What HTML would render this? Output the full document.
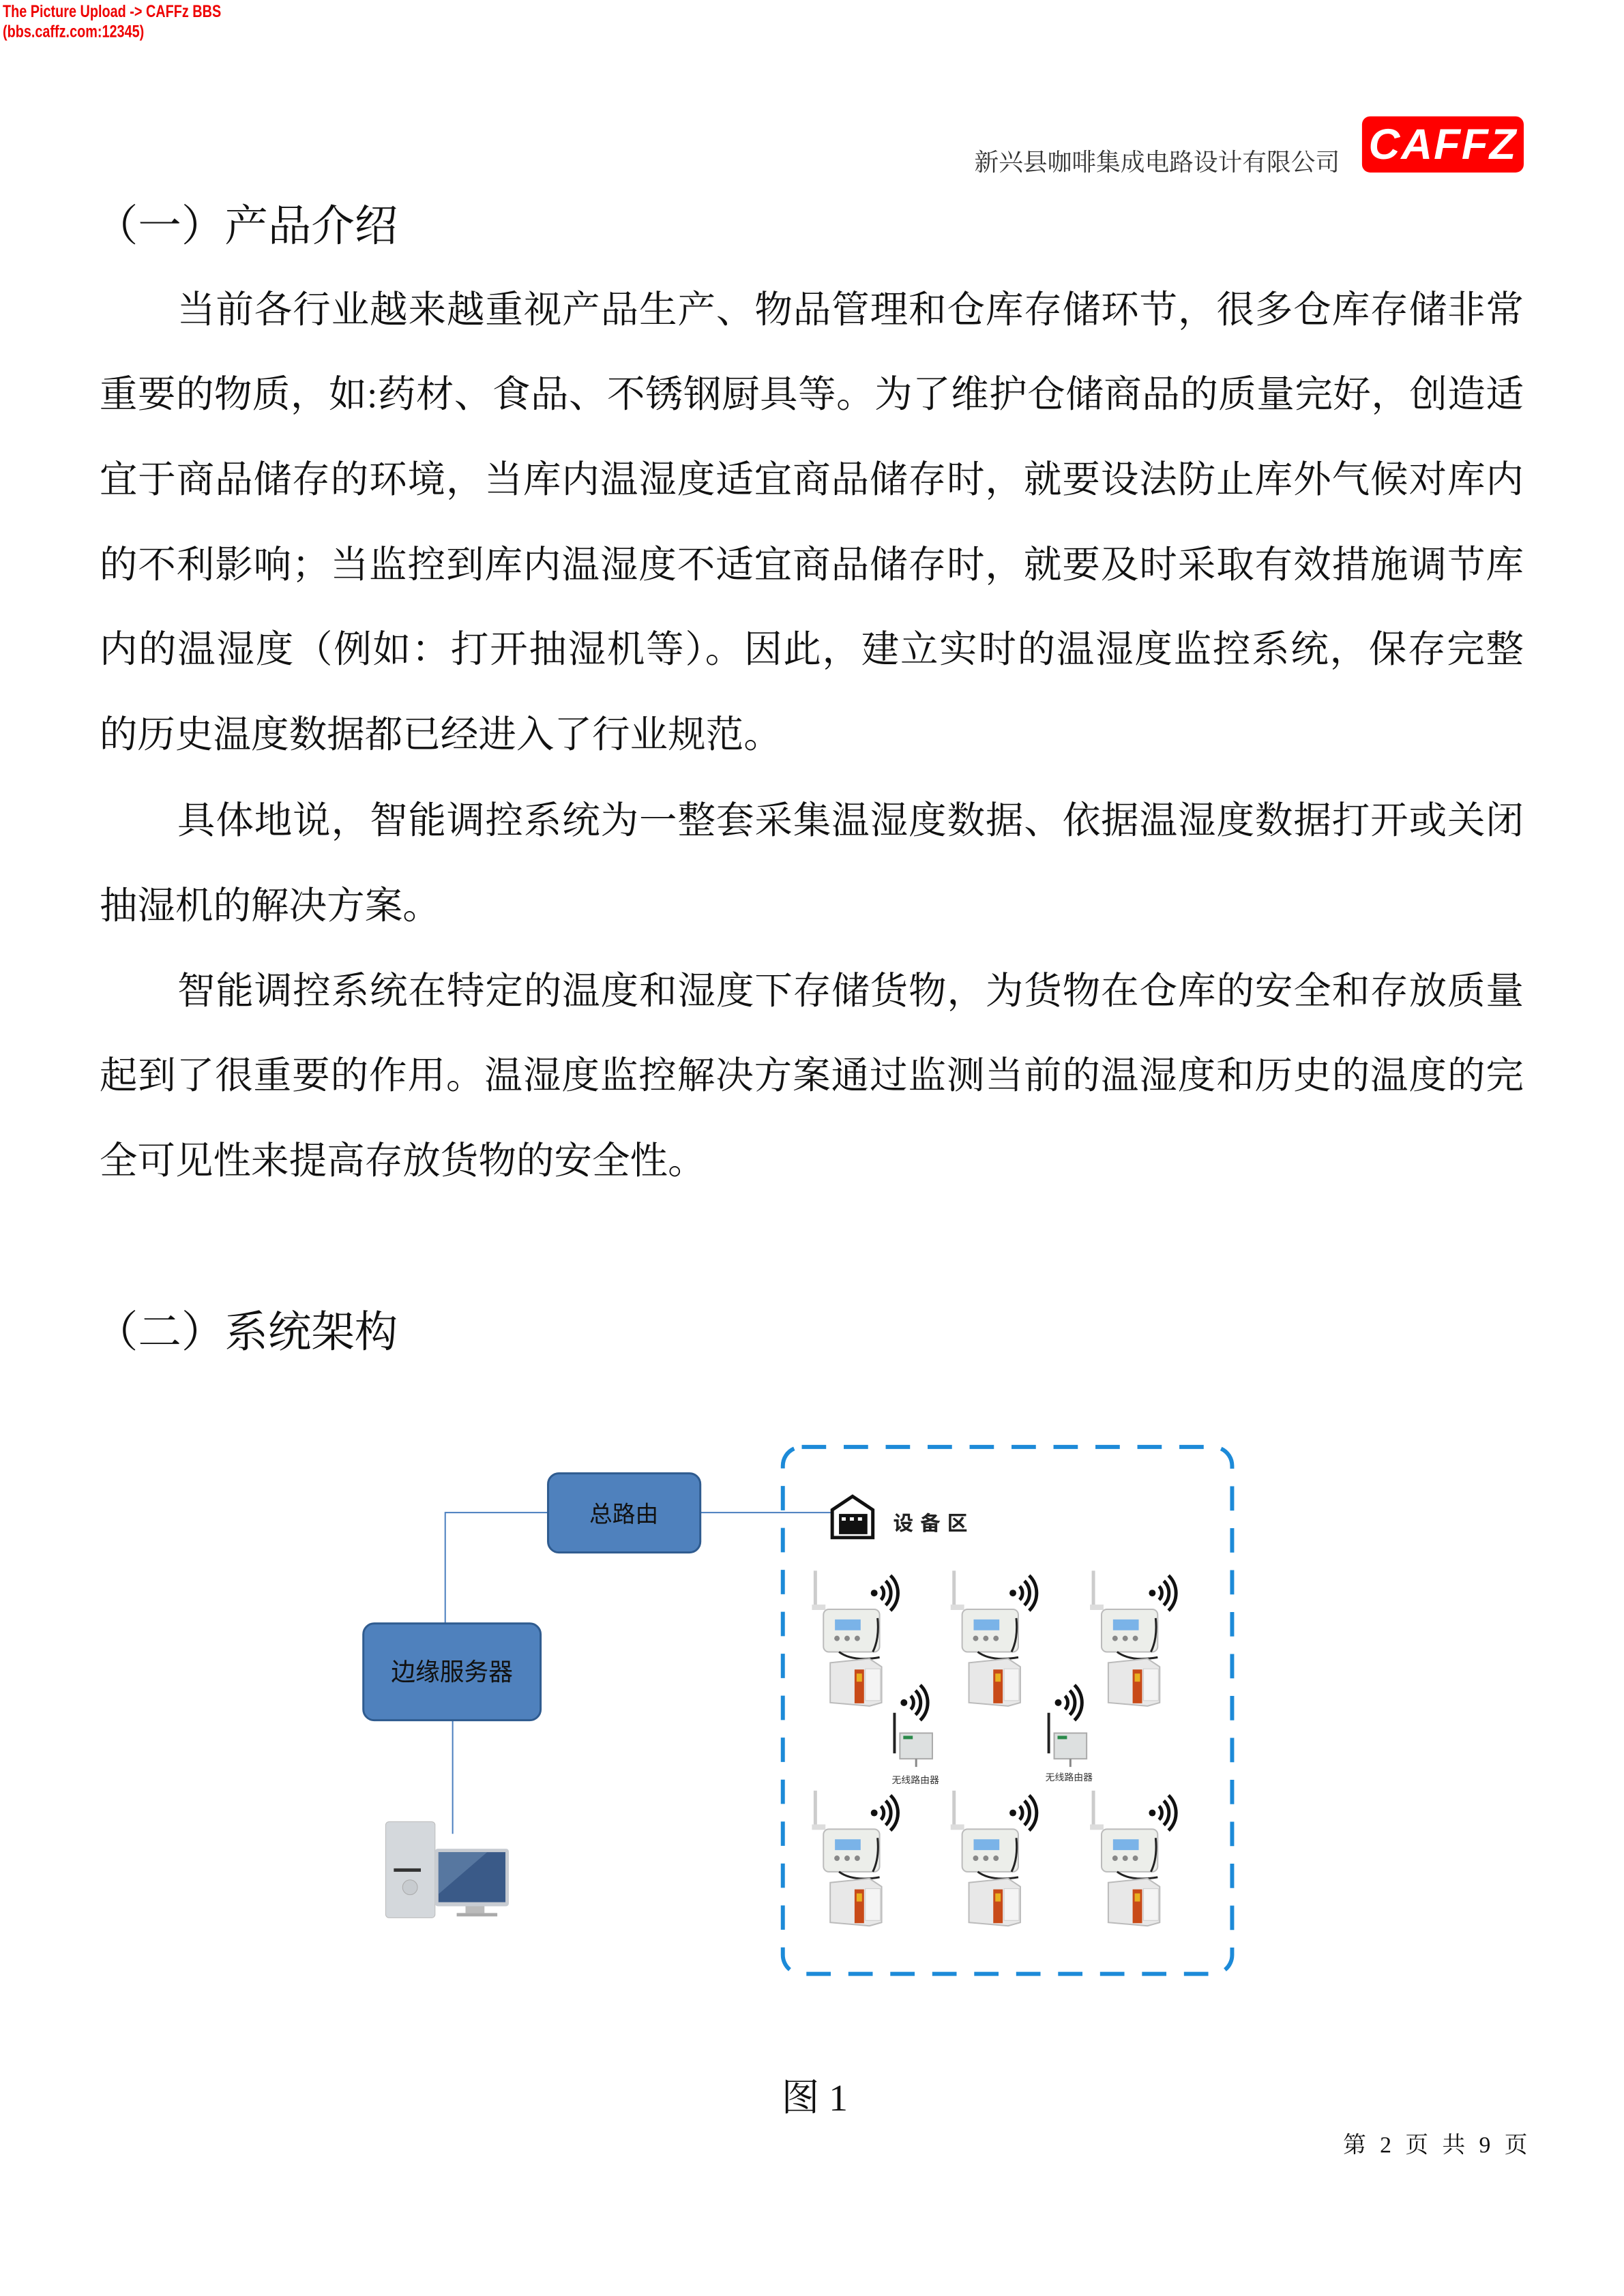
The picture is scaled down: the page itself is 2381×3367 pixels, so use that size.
<!DOCTYPE html>
<html><head><meta charset="utf-8">
<style>
html,body{margin:0;padding:0;background:#fff}
body{width:2381px;height:3367px;position:relative;overflow:hidden;font-family:"Liberation Serif","Noto Serif CJK SC",serif;color:#111}
#w{position:absolute;left:0;top:0;width:2381px;height:3367px;transform:scale(.992);transform-origin:0 0}
.a{position:absolute;white-space:nowrap}
.ln{position:absolute;left:147px;width:2105px;font-size:56px;line-height:64px;height:64px;white-space:nowrap;text-align:justify;text-align-last:justify}
.nl{text-align-last:left}
.ind{left:262px;width:1990px}
.h{font-size:64px;line-height:70px}
</style></head><body><div id="w">
<div class="a" style="left:4px;top:2px;color:#e00;font:bold 25px 'Liberation Sans Narrow','Liberation Sans',sans-serif;line-height:30px;transform:scaleX(.8);transform-origin:left">The Picture Upload -&gt; CAFFz BBS<br>(bbs.caffz.com:12345)</div>
<div class="a" style="left:1440px;top:220px;font-size:36px;line-height:40px;color:#333">新兴县咖啡集成电路设计有限公司</div>
<div class="a" style="left:2013px;top:172px;width:239px;height:83px;background:#f00;border-radius:12px;color:#fff;font:italic bold 64px/83px 'Liberation Sans',sans-serif;text-align:center;letter-spacing:2px">CAFFZ</div>

<div class="a h" style="left:140px;top:300px">（一）产品介绍</div>
<div class="ln ind" style="top:427px">当前各行业越来越重视产品生产、物品管理和仓库存储环节，很多仓库存储非常</div>
<div class="ln" style="top:552px">重要的物质，如:药材、食品、不锈钢厨具等。为了维护仓储商品的质量完好，创造适</div>
<div class="ln" style="top:678px">宜于商品储存的环境，当库内温湿度适宜商品储存时，就要设法防止库外气候对库内</div>
<div class="ln" style="top:804px">的不利影响；当监控到库内温湿度不适宜商品储存时，就要及时采取有效措施调节库</div>
<div class="ln" style="top:929px">内的温湿度（例如：打开抽湿机等）。因此，建立实时的温湿度监控系统，保存完整</div>
<div class="ln nl" style="top:1055px">的历史温度数据都已经进入了行业规范。</div>
<div class="ln ind" style="top:1182px">具体地说，智能调控系统为一整套采集温湿度数据、依据温湿度数据打开或关闭</div>
<div class="ln nl" style="top:1308px">抽湿机的解决方案。</div>
<div class="ln ind" style="top:1434px">智能调控系统在特定的温度和湿度下存储货物，为货物在仓库的安全和存放质量</div>
<div class="ln" style="top:1559px">起到了很重要的作用。温湿度监控解决方案通过监测当前的温湿度和历史的温度的完</div>
<div class="ln nl" style="top:1685px">全可见性来提高存放货物的安全性。</div>

<div class="a h" style="left:140px;top:1935px">（二）系统架构</div>

<svg class="a" style="left:0;top:0" width="2381" height="3367" viewBox="0 0 2381 3367">
<defs>
<g id="wifi" fill="none" stroke="#111" stroke-width="5">
<circle cx="0" cy="0" r="5" fill="#111" stroke="none"/>
<path d="M10,-10 A14,14 0 0 1 10,10"/><path d="M17,-18 A25,25 0 0 1 17,18"/><path d="M24,-26 A36,36 0 0 1 24,26"/>
</g>
<g id="unit">
<line x1="5" y1="0" x2="5" y2="55" stroke="#ccc" stroke-width="5"/>
<rect x="0" y="50" width="20" height="8" fill="#ddd"/>
<rect x="17" y="57" width="83" height="63" rx="8" fill="#eceeea" stroke="#bbb" stroke-width="2"/>
<rect x="34" y="72" width="38" height="16" fill="#7ab3e8"/>
<circle cx="37" cy="100" r="4" fill="#888"/><circle cx="52" cy="100" r="4" fill="#888"/><circle cx="67" cy="100" r="4" fill="#888"/>
<path d="M40,120 Q60,135 100,128 M90,120 Q100,100 97,70" stroke="#222" stroke-width="3" fill="none"/>
<use href="#wifi" x="92" y="33"/>
<polygon points="27,136 85,130 103,142 103,195 85,200 27,195" fill="#e8e8e8" stroke="#bbb" stroke-width="2"/>
<rect x="63" y="146" width="14" height="50" fill="#c84a18"/>
<rect x="66" y="152" width="8" height="12" fill="#e8b020"/>
<rect x="79" y="145" width="22" height="47" fill="#f4f4f4" stroke="#ccc"/>
</g>
<g id="router">
<line x1="0" y1="0" x2="0" y2="60" stroke="#222" stroke-width="4"/>
<rect x="8" y="30" width="48" height="38" fill="#dde0e0" stroke="#aaa" stroke-width="2"/>
<rect x="13" y="34" width="14" height="5" fill="#2a8a4a"/>
<line x1="32" y1="68" x2="32" y2="80" stroke="#888" stroke-width="3"/>
<use href="#wifi" x="14" y="-15"/>
</g>
</defs>
<polyline points="810,2236 658,2236 658,2400" fill="none" stroke="#4a7ebf" stroke-width="2"/>
<line x1="1035" y1="2236" x2="1240" y2="2236" stroke="#4a7ebf" stroke-width="2"/>
<line x1="669" y1="2543" x2="669" y2="2711" stroke="#4a7ebf" stroke-width="2"/>
<rect x="810" y="2178" width="225" height="117" rx="16" fill="#4f81bd" stroke="#2f5b8f" stroke-width="3"/>
<text x="922" y="2250" font-size="34" text-anchor="middle" fill="#111" font-family="Liberation Sans,Noto Sans CJK SC,sans-serif">总路由</text>
<rect x="537" y="2400" width="262" height="143" rx="16" fill="#4f81bd" stroke="#2f5b8f" stroke-width="3"/>
<text x="668" y="2484" font-size="36" text-anchor="middle" fill="#111" font-family="Liberation Sans,Noto Sans CJK SC,sans-serif">边缘服务器</text>
<rect x="570" y="2693" width="73" height="142" rx="5" fill="#d4d8dc" stroke="#bbb"/>
<rect x="582" y="2762" width="40" height="5" fill="#333"/>
<circle cx="606" cy="2790" r="11" fill="#c8ccd0" stroke="#aaa"/>
<rect x="643" y="2733" width="109" height="85" rx="4" fill="#c8ccd2"/>
<rect x="648" y="2738" width="99" height="74" fill="#3a5a88"/>
<polygon points="648,2738 720,2738 648,2800" fill="#6a8ab0" opacity=".6"/>
<rect x="688" y="2818" width="28" height="10" fill="#bbb"/><rect x="675" y="2828" width="60" height="5" fill="#aaa"/>
<rect x="1157" y="2139" width="664" height="779" rx="28" fill="none" stroke="#1c8ad8" stroke-width="6" stroke-dasharray="36,26"/>
<path d="M1230,2232 L1260,2212 L1290,2232 L1290,2273 L1230,2273 Z" fill="#fff" stroke="#111" stroke-width="5"/>
<rect x="1240" y="2238" width="42" height="30" fill="#111"/>
<rect x="1244" y="2243" width="6" height="5" fill="#fff"/><rect x="1256" y="2243" width="6" height="5" fill="#fff"/><rect x="1268" y="2243" width="6" height="5" fill="#fff"/>
<text x="1320" y="2262" font-size="30" font-weight="bold" fill="#222" letter-spacing="10" font-family="Liberation Sans,Noto Sans CJK SC,sans-serif">设备区</text>
<use href="#unit" x="1200" y="2322"/>
<use href="#unit" x="1405" y="2322"/>
<use href="#unit" x="1611" y="2322"/>
<use href="#unit" x="1200" y="2647"/>
<use href="#unit" x="1405" y="2647"/>
<use href="#unit" x="1611" y="2647"/>
<use href="#router" x="1322" y="2532"/>
<use href="#router" x="1550" y="2532"/>
<text x="1353" y="2636" font-size="14" text-anchor="middle" fill="#333" font-family="Liberation Sans,Noto Sans CJK SC,sans-serif">无线路由器</text>
<text x="1580" y="2632" font-size="14" text-anchor="middle" fill="#333" font-family="Liberation Sans,Noto Sans CJK SC,sans-serif">无线路由器</text>
</svg>

<div class="a" style="left:1155px;top:3070px;font-size:56px;line-height:64px">图 1</div>
<div class="a" style="left:1985px;top:3152px;font-size:34px;line-height:40px;word-spacing:12px">第 2 页 共 9 页</div>
</div></body></html>
